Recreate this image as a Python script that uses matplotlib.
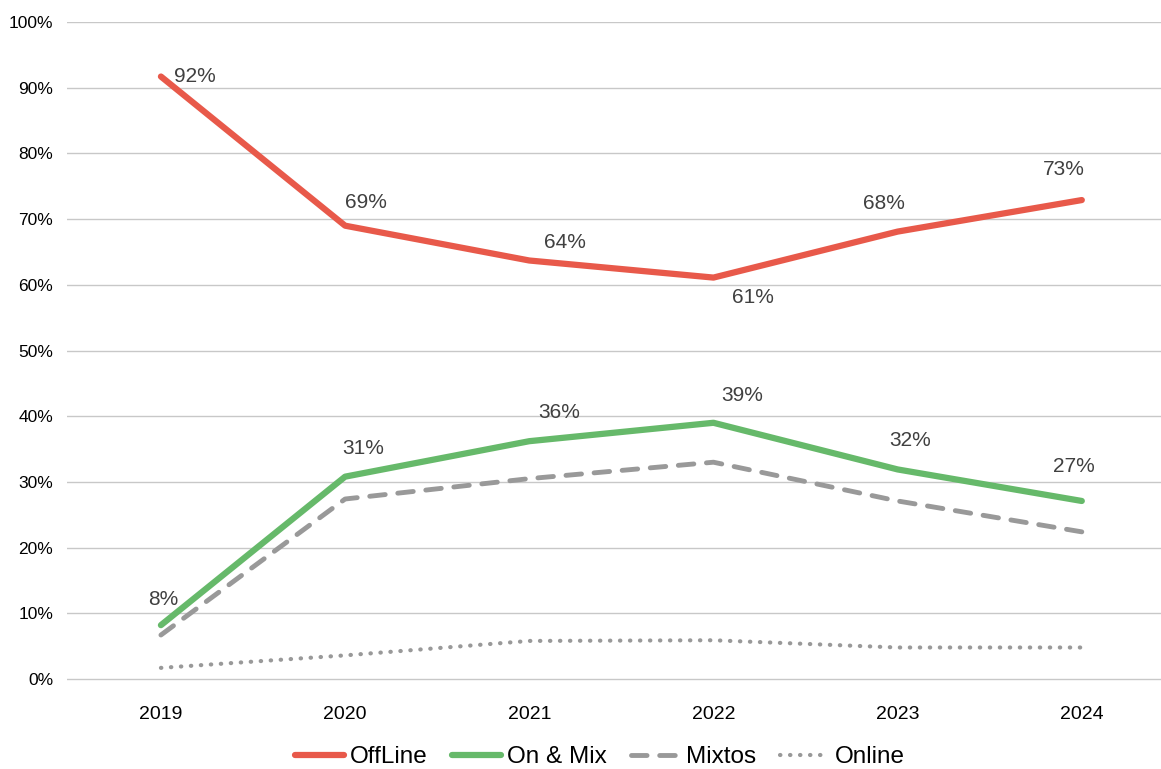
import matplotlib
matplotlib.use("Agg")
import matplotlib.pyplot as plt
from matplotlib.ticker import FuncFormatter

plt.rcParams["font.family"] = ["Liberation Sans", "DejaVu Sans"]

# data (in %)
years = ["2019", "2020", "2021", "2022", "2023", "2024"]
offline = [91.7, 69.0, 63.7, 61.1, 68.1, 72.9]
on_mix = [8.2, 30.8, 36.2, 39.0, 31.9, 27.1]
mixtos = [6.7, 27.4, 30.5, 33.0, 27.1, 22.4]
online = [1.7, 3.6, 5.8, 5.9, 4.8, 4.8]

offline_labels = ["92%", "69%", "64%", "61%", "68%", "73%"]
on_mix_labels = ["8%", "31%", "36%", "39%", "32%", "27%"]

# label offsets in pixels (dx, dy) relative to the point
offline_off = [(34, 0), (21, 23), (36, 18), (39, -20), (-14, 28), (-18, 31)]
on_mix_off = [(2, 26), (18, 28), (30, 29), (29, 27), (12, 29), (-8, 34)]

RED = "#E8594A"
GREEN = "#66B96A"
GREY = "#999999"
LABEL = "#404040"

fig = plt.figure(figsize=(11.61, 7.69), dpi=100)
ax = fig.add_axes([67 / 1161, 1 - 681 / 769, 1 - 67 / 1161, (681 - 22) / 769])

x = list(range(len(years)))
ax.plot(x, offline, color=RED, lw=4.5, solid_capstyle="round", label="OffLine", clip_on=False, zorder=4)
ax.plot(x, on_mix, color=GREEN, lw=4.5, solid_capstyle="round", label="On & Mix", clip_on=False, zorder=4)
ax.plot(x, mixtos, color=GREY, lw=3.5, dashes=(3.2, 2.6), dash_capstyle="round",
        label="Mixtos", clip_on=False, zorder=3)
ax.plot(x, online, color=GREY, lw=3, dashes=(0.1, 2.3), dash_capstyle="round",
        label="Online", clip_on=False, zorder=3)

for xi, v, t, (dx, dy) in zip(x, offline, offline_labels, offline_off):
    ax.annotate(t, (xi, v), xytext=(dx, dy), textcoords="offset pixels",
                ha="center", va="center", fontsize=15, color=LABEL)
for xi, v, t, (dx, dy) in zip(x, on_mix, on_mix_labels, on_mix_off):
    ax.annotate(t, (xi, v), xytext=(dx, dy), textcoords="offset pixels",
                ha="center", va="center", fontsize=15, color=LABEL)

ax.set_xlim(-0.51, 5.43)
ax.set_ylim(-0.3, 100)
ax.set_yticks(range(0, 101, 10))
ax.yaxis.set_major_formatter(FuncFormatter(lambda v, p: f"{int(v)}%"))
ax.set_xticks(x)
ax.set_xticklabels(years)
ax.grid(axis="y", color="#C8C8C8", lw=1)
ax.set_axisbelow(True)
for s in ax.spines.values():
    s.set_visible(False)
ax.tick_params(axis="both", length=0, colors="black")
ax.tick_params(axis="x", labelsize=14, pad=18)
ax.tick_params(axis="y", labelsize=12.5, pad=10)

fig.legend(loc="center", bbox_to_anchor=(600 / 1161, 1 - 757 / 769), ncol=4, frameon=False,
           fontsize=17.5, handlelength=2.0, handletextpad=0.25, columnspacing=1.0,
           borderaxespad=0, borderpad=0)

fig.savefig("out.png", dpi=100)
